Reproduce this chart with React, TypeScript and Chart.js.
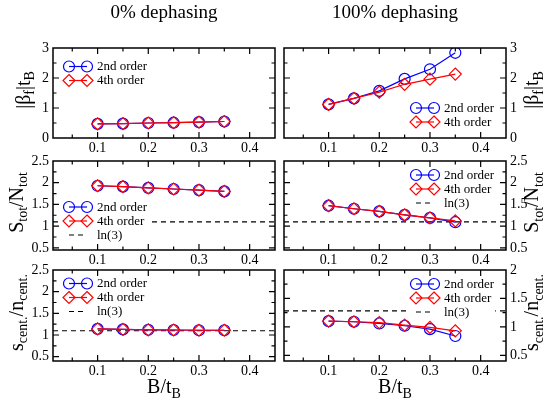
import React, { useEffect, useRef } from "react";
import { Chart, registerables } from "chart.js";

Chart.register(...registerables);

const FONT = '"Liberation Serif", "Times New Roman", serif';
const BLUE = "#0000ff";
const RED = "#ff0000";

// ---------- data ----------
const bValues = [0.1, 0.15, 0.2, 0.25, 0.3, 0.35];
const xMajorTicks = [0.1, 0.2, 0.3, 0.4];
const xMinorTicks = [0.05, 0.15, 0.25, 0.35];
const X_MIN = 0.012;
const X_MAX = 0.45;

const betaTicks = [0, 1, 2, 3];
const betaMinor = [0.5, 1.5, 2.5];
const sTicks = [0.5, 1, 1.5, 2, 2.5];
const sMinor = [0.75, 1.25, 1.75, 2.25];
const cent100Ticks = [0.5, 1, 1.5, 2];
const cent100Minor = [0.75, 1.25, 1.75];

const columnTitles = ["0% dephasing", "100% dephasing"];
const seriesLabels = ["2nd order", "4th order"];
const refLabel = "ln(3)";
const LN3 = 1.0986;
const cent100RefDrawn = 1.28;

const beta0_2nd = [0.47, 0.48, 0.5, 0.51, 0.53, 0.55];
const beta0_4th = [0.47, 0.48, 0.5, 0.51, 0.53, 0.55];
const beta100_2nd = [1.12, 1.32, 1.57, 1.97, 2.29, 2.84];
const beta100_4th = [1.12, 1.32, 1.53, 1.79, 1.96, 2.13];
const stot0_2nd = [1.93, 1.91, 1.88, 1.855, 1.83, 1.8];
const stot0_4th = [1.93, 1.91, 1.88, 1.855, 1.83, 1.8];
const stot100_2nd = [1.47, 1.4, 1.34, 1.26, 1.19, 1.09];
const stot100_4th = [1.47, 1.4, 1.34, 1.26, 1.19, 1.12];
const scent0_2nd = [1.14, 1.13, 1.12, 1.115, 1.11, 1.11];
const scent0_4th = [1.14, 1.13, 1.12, 1.115, 1.11, 1.11];
const scent100_2nd = [1.1, 1.09, 1.06, 1.02, 0.96, 0.84];
const scent100_4th = [1.1, 1.09, 1.075, 1.03, 0.99, 0.93];

// ---------- layout ----------
const W = 550;
const H = 405;
const COLS = [
  { L: 53, R: 275 },
  { L: 284, R: 506 },
];
const ROWS = [
  { T: 48, B: 138 },
  { T: 161, B: 250 },
  { T: 270, B: 361 },
];
const Y_W = 35;
const X_H = 22;

type Part = { t: string; sub?: boolean };
const TITLES: Record<string, Part[]> = {
  beta: [{ t: "|β" }, { t: "f", sub: true }, { t: "|t" }, { t: "B", sub: true }],
  stot: [{ t: "S" }, { t: "tot", sub: true }, { t: "/N" }, { t: "tot", sub: true }],
  scent: [{ t: "s" }, { t: "cent.", sub: true }, { t: "/n" }, { t: "cent.", sub: true }],
  xb: [{ t: "B/t" }, { t: "B", sub: true }],
};

type Panel = {
  col: number;
  row: number;
  s2: number[];
  s4: number[];
  ref: number | null;
  yMin: number;
  yMax: number;
  yMajor: number[];
  yMinor: number[];
  title: string;
  legend: { dx: number; dy: number };
};

const panels: Panel[] = [
  { col: 0, row: 0, s2: beta0_2nd, s4: beta0_4th, ref: null, yMin: 0, yMax: 3, yMajor: betaTicks, yMinor: betaMinor, title: "beta", legend: { dx: 16, dy: 18.5 } },
  { col: 1, row: 0, s2: beta100_2nd, s4: beta100_4th, ref: null, yMin: 0, yMax: 3, yMajor: betaTicks, yMinor: betaMinor, title: "beta", legend: { dx: 132, dy: 60 } },
  { col: 0, row: 1, s2: stot0_2nd, s4: stot0_4th, ref: LN3, yMin: 0.45, yMax: 2.5, yMajor: sTicks, yMinor: sMinor, title: "stot", legend: { dx: 16, dy: 46 } },
  { col: 1, row: 1, s2: stot100_2nd, s4: stot100_4th, ref: LN3, yMin: 0.45, yMax: 2.5, yMajor: sTicks, yMinor: sMinor, title: "stot", legend: { dx: 132, dy: 14 } },
  { col: 0, row: 2, s2: scent0_2nd, s4: scent0_4th, ref: LN3, yMin: 0.4, yMax: 2.5, yMajor: sTicks, yMinor: sMinor, title: "scent", legend: { dx: 16, dy: 13.5 } },
  { col: 1, row: 2, s2: scent100_2nd, s4: scent100_4th, ref: cent100RefDrawn, yMin: 0.4, yMax: 2.0, yMajor: cent100Ticks, yMinor: cent100Minor, title: "scent", legend: { dx: 132, dy: 14 } },
];

function drawRich(ctx: CanvasRenderingContext2D, parts: Part[], x: number, y: number, rotate: boolean) {
  const M = 20;
  const m = 14;
  ctx.save();
  ctx.translate(x, y);
  if (rotate) ctx.rotate(-Math.PI / 2);
  let total = 0;
  const widths = parts.map((p) => {
    ctx.font = `${p.sub ? m : M}px ${FONT}`;
    const w = ctx.measureText(p.t).width;
    total += w;
    return w;
  });
  let cx = -total / 2;
  ctx.textAlign = "left";
  ctx.textBaseline = "alphabetic";
  ctx.fillStyle = "#000";
  parts.forEach((p, i) => {
    ctx.font = `${p.sub ? m : M}px ${FONT}`;
    ctx.fillText(p.t, cx, p.sub ? 4.5 : 0);
    cx += widths[i];
  });
  ctx.restore();
}

function marker(ctx: CanvasRenderingContext2D, style: string, x: number, y: number) {
  ctx.beginPath();
  if (style === "circle") {
    ctx.arc(x, y, 5.5, 0, Math.PI * 2);
  } else {
    const r = 6;
    ctx.moveTo(x, y - r);
    ctx.lineTo(x + r, y);
    ctx.lineTo(x, y + r);
    ctx.lineTo(x - r, y);
    ctx.closePath();
  }
  ctx.stroke();
}

function makeChart(canvas: HTMLCanvasElement, p: Panel, idx: number) {
  const col = COLS[p.col];
  const row = ROWS[p.row];
  const left = p.col === 0;
  const padding = {
    left: left ? col.L - Y_W : col.L,
    right: left ? W - col.R : W - col.R - Y_W,
    top: row.T,
    bottom: H - row.B - X_H,
  };
  const datasets: any[] = [
    {
      label: seriesLabels[0],
      data: bValues.map((x, j) => ({ x, y: p.s2[j] })),
      borderColor: BLUE,
      backgroundColor: "transparent",
      borderWidth: 1.2,
      pointStyle: "circle",
      pointRadius: 5.5,
      pointBorderWidth: 1.2,
      pointBorderColor: BLUE,
      pointBackgroundColor: "transparent",
      order: 2,
    },
    {
      label: seriesLabels[1],
      data: bValues.map((x, j) => ({ x, y: p.s4[j] })),
      borderColor: RED,
      backgroundColor: "transparent",
      borderWidth: 1.2,
      pointStyle: "rectRot",
      pointRadius: 6,
      pointBorderWidth: 1.2,
      pointBorderColor: RED,
      pointBackgroundColor: "transparent",
      order: 1,
    },
  ];
  if (p.ref != null) {
    datasets.push({
      label: refLabel,
      data: [
        { x: X_MIN, y: p.ref },
        { x: X_MAX, y: p.ref },
      ],
      borderColor: "#000",
      borderDash: [5, 4],
      borderWidth: 1.2,
      pointRadius: 0,
      order: 3,
    });
  }

  const tickFont = { family: FONT, size: 14 };

  const deco = {
    id: "deco" + idx,
    afterDatasetsDraw(chart: any) {
      const ctx: CanvasRenderingContext2D = chart.ctx;
      const a = chart.chartArea;
      const xs = chart.scales.x;
      const ys = chart.scales.y;
      ctx.save();
      // legend
      const entries: any[] = [
        { kind: "s", color: BLUE, style: "circle", label: seriesLabels[0] },
        { kind: "s", color: RED, style: "diamond", label: seriesLabels[1] },
      ];
      if (p.ref != null) entries.push({ kind: "r", label: refLabel });
      ctx.font = `13px ${FONT}`;
      const x0 = a.left + p.legend.dx;
      const y0 = a.top + p.legend.dy;
      const textX = x0 + 28;
      const maxW = Math.max(...entries.map((e) => ctx.measureText(e.label).width));
      ctx.fillStyle = "#fff";
      ctx.fillRect(x0 - 8, y0 - 7, textX + maxW + 1 - (x0 - 8), (entries.length - 1) * 14 + 14);
      entries.forEach((e, i) => {
        const y = y0 + i * 14;
        ctx.lineWidth = 1.2;
        if (e.kind === "s") {
          ctx.strokeStyle = e.color;
          ctx.setLineDash([]);
          ctx.beginPath();
          ctx.moveTo(x0, y);
          ctx.lineTo(x0 + 18, y);
          ctx.stroke();
          marker(ctx, e.style, x0, y);
          marker(ctx, e.style, x0 + 18, y);
        } else {
          ctx.strokeStyle = "#000";
          ctx.setLineDash([5, 4]);
          ctx.beginPath();
          ctx.moveTo(x0, y);
          ctx.lineTo(x0 + 18, y);
          ctx.stroke();
          ctx.setLineDash([]);
        }
        ctx.fillStyle = "#000";
        ctx.font = `13px ${FONT}`;
        ctx.textAlign = "left";
        ctx.textBaseline = "middle";
        ctx.fillText(e.label, textX, y + 0.5);
      });
      // frame
      ctx.setLineDash([]);
      ctx.strokeStyle = "#000";
      ctx.lineWidth = 1.5;
      ctx.strokeRect(a.left, a.top, a.right - a.left, a.bottom - a.top);
      // inward ticks on all sides
      ctx.lineWidth = 1.2;
      const vt = (v: number, len: number) => {
        const px = xs.getPixelForValue(v);
        ctx.beginPath();
        ctx.moveTo(px, a.bottom);
        ctx.lineTo(px, a.bottom - len);
        ctx.moveTo(px, a.top);
        ctx.lineTo(px, a.top + len);
        ctx.stroke();
      };
      const ht = (v: number, len: number) => {
        const py = ys.getPixelForValue(v);
        ctx.beginPath();
        ctx.moveTo(a.left, py);
        ctx.lineTo(a.left + len, py);
        ctx.moveTo(a.right, py);
        ctx.lineTo(a.right - len, py);
        ctx.stroke();
      };
      xMajorTicks.forEach((v) => vt(v, 6));
      xMinorTicks.forEach((v) => vt(v, 3.5));
      p.yMajor.forEach((v) => { if (v > p.yMin && v < p.yMax) ht(v, 6); });
      p.yMinor.forEach((v) => ht(v, 3.5));
      // titles
      const cy = (a.top + a.bottom) / 2 - 3;
      const tx = left ? (p.row === 0 ? 29.5 : 22.5) : 538;
      drawRich(ctx, TITLES[p.title], tx, cy, true);
      const cx = (a.left + a.right) / 2;
      if (p.row === 2) drawRich(ctx, TITLES.xb, cx, 393, false);
      if (p.row === 0) {
        ctx.font = `19px ${FONT}`;
        ctx.fillStyle = "#000";
        ctx.textAlign = "center";
        ctx.textBaseline = "alphabetic";
        ctx.fillText(columnTitles[p.col], cx, 18);
      }
      ctx.restore();
    },
  };

  return new Chart(canvas, {
    type: "line",
    data: { datasets },
    options: {
      animation: false,
      responsive: false,
      devicePixelRatio: 1,
      events: [],
      layout: { padding },
      plugins: { legend: { display: false }, tooltip: { enabled: false }, title: { display: false } },
      elements: { line: { tension: 0 } },
      scales: {
        x: {
          type: "linear",
          position: "bottom",
          min: X_MIN,
          max: X_MAX,
          afterBuildTicks: (s: any) => {
            s.ticks = xMajorTicks.map((v) => ({ value: v }));
          },
          afterFit: (s: any) => {
            s.height = X_H;
          },
          ticks: {
            callback: (v: any) => String(Number(v)),
            font: tickFont,
            color: "#000",
            padding: 2,
            maxRotation: 0,
            autoSkip: false,
          },
          grid: { display: false, drawTicks: false },
          border: { display: false },
        },
        y: {
          type: "linear",
          position: left ? "left" : "right",
          min: p.yMin,
          max: p.yMax,
          afterBuildTicks: (s: any) => {
            s.ticks = p.yMajor.map((v) => ({ value: v }));
          },
          afterFit: (s: any) => {
            s.width = Y_W;
          },
          ticks: {
            callback: (v: any) => String(Number(v)),
            font: tickFont,
            color: "#000",
            padding: 4,
            autoSkip: false,
          },
          grid: { display: false, drawTicks: false },
          border: { display: false },
        },
      },
    } as any,
    plugins: [deco],
  });
}

export default function App() {
  const refs = useRef<(HTMLCanvasElement | null)[]>([]);
  useEffect(() => {
    const charts = panels.map((p, i) => makeChart(refs.current[i] as HTMLCanvasElement, p, i));
    return () => charts.forEach((c) => c.destroy());
  }, []);
  return (
    <div style={{ position: "fixed", left: 0, top: 0, width: W, height: H, background: "#fff" }}>
      {panels.map((_, i) => (
        <canvas
          key={i}
          ref={(el) => {
            refs.current[i] = el;
          }}
          width={W}
          height={H}
          style={{ position: "absolute", left: 0, top: 0, width: W, height: H }}
        />
      ))}
    </div>
  );
}
